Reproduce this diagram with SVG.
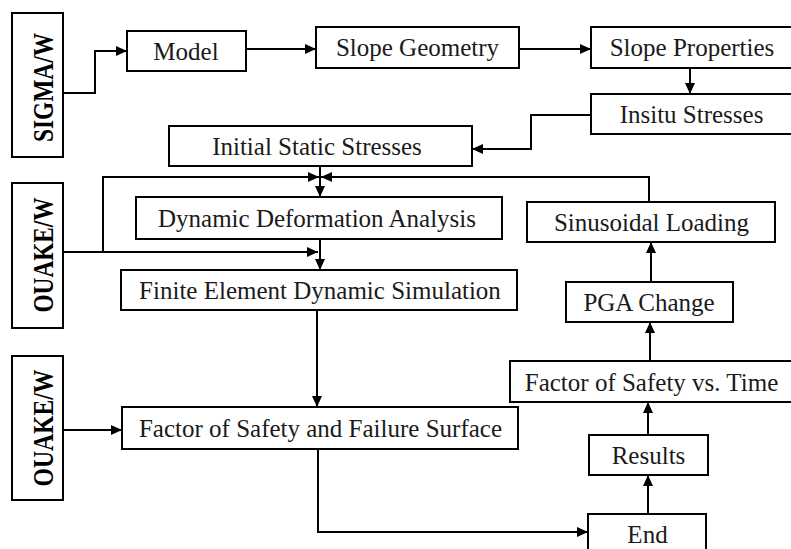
<svg xmlns="http://www.w3.org/2000/svg" width="791" height="549" viewBox="0 0 791 549">
<style>
.box{fill:#fff;stroke:#000;stroke-width:2}
.t{font-family:'Liberation Serif','Tinos','Times New Roman','DejaVu Serif',serif;font-size:25px;fill:#1a1a1a;text-anchor:middle}
.v{font-family:'Liberation Serif','Tinos','Times New Roman','DejaVu Serif',serif;font-size:29px;font-weight:bold;fill:#000;text-anchor:middle}
.c{fill:none;stroke:#000;stroke-width:2}
</style>
<defs>
<marker id="ah" markerUnits="userSpaceOnUse" markerWidth="12" markerHeight="10" refX="11" refY="5" orient="auto">
<path d="M0,0 L11,5 L0,10 Z" fill="#000"/>
</marker>
</defs>
<rect width="791" height="549" fill="#fff"/>
<g id="connectors">
<path class="c" d="M63,93 H95 V51 H127" marker-end="url(#ah)"/>
<path class="c" d="M246,49 H316" marker-end="url(#ah)"/>
<path class="c" d="M519,49 H591" marker-end="url(#ah)"/>
<path class="c" d="M690,68 V94" marker-end="url(#ah)"/>
<path class="c" d="M591,115 H531 V149 H472" marker-end="url(#ah)"/>
<path class="c" d="M320,166 V197" marker-end="url(#ah)"/>
<path class="c" d="M103,252 V177 H319" marker-end="url(#ah)"/>
<path class="c" d="M649,202 V177 H321" marker-end="url(#ah)"/>
<path class="c" d="M63,252 H318" marker-end="url(#ah)"/>
<path class="c" d="M320,239 V270" marker-end="url(#ah)"/>
<path class="c" d="M317,310 V407" marker-end="url(#ah)"/>
<path class="c" d="M63,430 H122" marker-end="url(#ah)"/>
<path class="c" d="M318,449 V532 H588" marker-end="url(#ah)"/>
<path class="c" d="M648,514 V475" marker-end="url(#ah)"/>
<path class="c" d="M648,435 V402" marker-end="url(#ah)"/>
<path class="c" d="M650,361 V322" marker-end="url(#ah)"/>
<path class="c" d="M651,282 V242" marker-end="url(#ah)"/>
</g>
<g id="sigma"><rect class="box" x="12" y="13" width="51" height="144"/><text class="v" font-family="Liberation Serif, serif" transform="translate(53,87.5) rotate(-90)" textLength="109" lengthAdjust="spacingAndGlyphs">SIGMA/W</text></g>
<g id="quake1"><rect class="box" x="12" y="183" width="51" height="145"/><text class="v" font-family="Liberation Serif, serif" transform="translate(53,255) rotate(-90)" textLength="115" lengthAdjust="spacingAndGlyphs">OUAKE/W</text></g>
<g id="quake2"><rect class="box" x="12" y="356" width="51" height="144"/><text class="v" font-family="Liberation Serif, serif" transform="translate(53,428) rotate(-90)" textLength="117" lengthAdjust="spacingAndGlyphs">OUAKE/W</text></g>
<g id="model"><rect class="box" x="127" y="31" width="119" height="40"/><text class="t" x="186" y="60">Model</text></g>
<g id="geometry"><rect class="box" x="316" y="27" width="203" height="41"/><text class="t" x="417.5" y="56">Slope Geometry</text></g>
<g id="properties"><rect class="box" x="591" y="27" width="210" height="41"/><text class="t" x="692" y="56">Slope Properties</text></g>
<g id="insitu"><rect class="box" x="591" y="94" width="210" height="40"/><text class="t" x="691.5" y="123">Insitu Stresses</text></g>
<g id="initial"><rect class="box" x="169" y="126" width="303" height="40"/><text class="t" x="317" y="155">Initial Static Stresses</text></g>
<g id="dynamic"><rect class="box" x="136" y="197" width="366" height="42"/><text class="t" x="317" y="227">Dynamic Deformation Analysis</text></g>
<g id="finite"><rect class="box" x="121" y="270" width="396" height="40"/><text class="t" x="320" y="299">Finite Element Dynamic Simulation</text></g>
<g id="fos"><rect class="box" x="122" y="407" width="396" height="42"/><text class="t" x="320.5" y="437">Factor of Safety and Failure Surface</text></g>
<g id="sinusoidal"><rect class="box" x="527" y="202" width="248" height="40"/><text class="t" x="651.5" y="231">Sinusoidal Loading</text></g>
<g id="pga"><rect class="box" x="566" y="282" width="167" height="40"/><text class="t" x="649" y="311">PGA Change</text></g>
<g id="fostime"><rect class="box" x="510" y="361" width="290" height="41"/><text class="t" x="651.5" y="391">Factor of Safety vs. Time</text></g>
<g id="results"><rect class="box" x="589" y="435" width="119" height="40"/><text class="t" x="648.5" y="464">Results</text></g>
<g id="end"><rect class="box" x="588" y="514" width="118" height="50"/><text class="t" x="647.5" y="543">End</text></g>
</svg>
